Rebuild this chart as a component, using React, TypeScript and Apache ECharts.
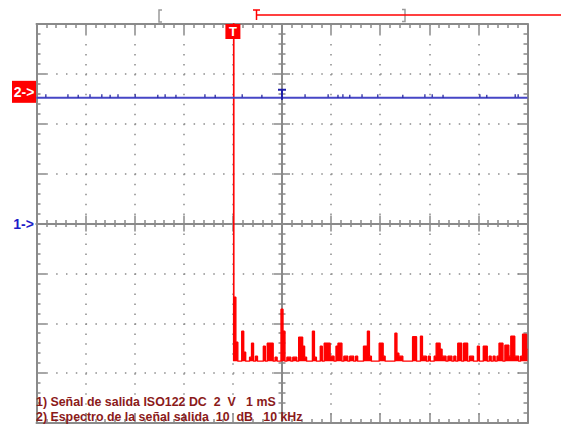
import React, { useEffect, useRef } from 'react';
import * as echarts from 'echarts';

const W = 561;
const H = 426;

// Channel 1 (blue): ISO122 output, DC coupled, 2 V/div, 1 ms/div
const CH1_TIME_MS = [0, 0.5, 1, 1.5, 2, 2.5, 3, 3.5, 4, 4.5, 5, 5.5, 6, 6.5, 7, 7.5, 8, 8.5, 9, 9.5, 10];
const CH1_VOLTS = [5.04, 5.04, 5.04, 5.04, 5.04, 5.04, 5.04, 5.04, 5.04, 5.04, 5.04, 5.04, 5.04, 5.04, 5.04, 5.04, 5.04, 5.04, 5.04, 5.04, 5.04];
const CH1_GLITCH_MS = [0.19, 0.64, 0.85, 1.09, 1.33, 1.5, 1.66, 2.01, 2.47, 2.62, 2.84, 3.43, 3.64, 4.19, 4.59, 5.47, 5.94, 6.14, 6.24, 6.38, 6.63, 6.95, 7.46, 7.91, 8.06, 8.28, 9.03, 9.17, 9.75, 9.81];
const CH1_GLITCH_V = [5.12, 5.12, 5.1, 5.12, 5.12, 5.1, 5.12, 5.12, 5.1, 5.12, 5.1, 5.12, 5.1, 5.12, 5.1, 5.12, 5.12, 5.1, 5.12, 5.1, 5.12, 5.12, 5.1, 5.12, 5.12, 5.1, 5.12, 5.1, 5.12, 5.12];
const CH1_TRIGGER_MS = 4;
const CH1_TRIGGER_LEVEL_V = 5.04;

// Channel 2: spectrum of output signal, 10 dB/div, 10 kHz/div, 0 Hz at the trigger division
const SPECTRUM_STEP_KHZ = 0.4;
const SPECTRUM_DB = [
  40, -41.2, -50.2, -54, -54, -48, -52.2, -54, -54, -53.2,
  -50.4, -54, -53, -54, -54, -54, -51, -54, -50.4, -50.4,
  -50.4, -54, -53.2, -54, -54, -43.6, -48, -54, -53.2, -53.2,
  -54, -53.2, -53.2, -54, -49.2, -49.2, -51, -53.2, -54, -54,
  -54, -48, -53.2, -54, -54, -51, -54, -50.4, -50.4, -50.4,
  -53, -53, -54, -51, -50.4, -50.4, -54, -53, -53, -54,
  -53, -53, -54, -53, -54, -54, -54, -51, -51, -48,
  -53, -54, -54, -54, -54, -50.4, -50.4, -53, -54, -54,
  -54, -54, -54, -48.4, -52.4, -53, -53, -54, -54, -54,
  -54, -54, -49.1, -49.1, -54, -54, -49, -53, -53, -54,
  -53, -54, -54, -53, -50.4, -50.4, -51.6, -53, -53, -54,
  -53, -53, -54, -53, -54, -50.4, -50.4, -54, -50.4, -50.4,
  -54, -53, -53, -54, -54, -51, -54, -54, -51, -51,
  -54, -53, -54, -53, -54, -53, -50.4, -50.4, -54, -50.8,
  -50.8, -53, -49, -49, -53, -53, -54, -53, -48.6, -48.6,
  -51.6,
];
const SPECTRUM_FLOOR_DB = -54;
const SPECTRUM_REF_DB = 0;

const LABEL_1 = '1) Señal de salida ISO122 DC  2  V   1 mS';
const LABEL_2 = '2) Espectro de la señal salida  10  dB   10 kHz';

const FONT = '"Liberation Sans", Arial, sans-serif';
const GRAY = '#8a8a8a';
const GRID = { left: 36.5, top: 24, width: 491, height: 399 };

function buildOption() {
  const frameTick = { show: true, inside: true, length: 10, lineStyle: { color: GRAY, width: 1.5 } };
  const frameMinor = { show: true, splitNumber: 5, length: 4, lineStyle: { color: GRAY, width: 1.5 } };
  const frameLine = { show: true, onZero: false, lineStyle: { color: GRAY, width: 2 } };
  const centerTick = { show: true, inside: false, length: 8, lineStyle: { color: GRAY, width: 1.5 } };
  const centerMinor = { show: true, splitNumber: 5, length: 3.5, lineStyle: { color: GRAY, width: 1.5 } };
  const centerLine = { show: true, onZero: true, lineStyle: { color: GRAY, width: 2 } };
  const noLabel = { show: false };
  const noSplit = { show: false };

  const blueData = CH1_TIME_MS.map((t, i) => [t, CH1_VOLTS[i]]);
  const glitchData = CH1_GLITCH_MS.map((t, i) => [t, CH1_GLITCH_V[i]]);
  const specData = SPECTRUM_DB.map((v, i) => [i * SPECTRUM_STEP_KHZ, v]);

  return {
    animation: false,
    backgroundColor: '#ffffff',
    textStyle: { fontFamily: FONT },
    grid: [
      { ...GRID, outerBoundsMode: 'none' },
      { ...GRID, outerBoundsMode: 'none' },
      { ...GRID, outerBoundsMode: 'none' },
    ],
    xAxis: [
      {
        gridIndex: 0, type: 'value', min: 0, max: 10, interval: 1, position: 'bottom',
        axisLine: frameLine, axisTick: frameTick, minorTick: frameMinor, axisLabel: noLabel,
        splitLine: { show: true, lineStyle: { color: '#8c8c8c', width: 1.5, type: [1.5, 8.48] } },
      },
      {
        gridIndex: 0, type: 'value', min: 0, max: 10, interval: 1, position: 'top',
        axisLine: frameLine, axisTick: frameTick, minorTick: frameMinor, axisLabel: noLabel, splitLine: noSplit,
      },
      { gridIndex: 0, type: 'value', min: -40, max: 60, show: false, axisLine: { onZero: false } },
      {
        gridIndex: 1, type: 'value', min: -5, max: 5, interval: 1, position: 'bottom',
        axisLine: centerLine, axisTick: centerTick, minorTick: centerMinor, axisLabel: noLabel, splitLine: noSplit,
      },
      {
        gridIndex: 2, type: 'value', min: -5, max: 5, interval: 1, position: 'top',
        axisLine: centerLine, axisTick: centerTick, minorTick: centerMinor, axisLabel: noLabel, splitLine: noSplit,
      },
    ],
    yAxis: [
      {
        gridIndex: 0, type: 'value', min: -4, max: 4, interval: 1, position: 'left',
        axisLine: frameLine, axisTick: frameTick, minorTick: frameMinor, axisLabel: noLabel,
        splitLine: { show: true, lineStyle: { color: '#8c8c8c', width: 1.5, type: [1.5, 8.32] } },
      },
      {
        gridIndex: 0, type: 'value', min: -4, max: 4, interval: 1, position: 'right',
        axisLine: frameLine, axisTick: frameTick, minorTick: frameMinor, axisLabel: noLabel, splitLine: noSplit,
      },
      { gridIndex: 0, type: 'value', min: -8, max: 8, show: false, axisLine: { onZero: false } },
      { gridIndex: 0, type: 'value', min: -66.4, max: 13.6, show: false, axisLine: { onZero: false } },
      {
        gridIndex: 1, type: 'value', min: -4, max: 4, interval: 1, position: 'left',
        axisLine: centerLine, axisTick: centerTick, minorTick: centerMinor, axisLabel: noLabel, splitLine: noSplit,
      },
      {
        gridIndex: 2, type: 'value', min: -4, max: 4, interval: 1, position: 'right',
        axisLine: centerLine, axisTick: centerTick, minorTick: centerMinor, axisLabel: noLabel, splitLine: noSplit,
      },
    ],
    series: [
      {
        name: 'spectrum',
        type: 'line',
        xAxisIndex: 2,
        yAxisIndex: 3,
        data: specData,
        step: 'middle',
        symbol: 'none',
        clip: true,
        lineStyle: { color: '#ff0000', width: 1.4 },
        areaStyle: { color: '#ff0000', opacity: 1, origin: SPECTRUM_FLOOR_DB },
        z: 3,
        markPoint: {
          silent: true,
          animation: false,
          data: [
            {
              coord: [-40, SPECTRUM_REF_DB],
              symbol: 'rect', symbolSize: [24, 22], symbolOffset: [-12.5, 0],
              itemStyle: { color: '#ff0000' },
              label: { show: true, position: 'inside', formatter: '2->', color: '#ffffff', fontSize: 14, fontWeight: 'bold', fontFamily: FONT },
            },
          ],
        },
      },
      {
        name: 'ch1',
        type: 'line',
        xAxisIndex: 0,
        yAxisIndex: 2,
        data: blueData,
        symbol: 'none',
        lineStyle: { color: '#4646c6', width: 2 },
        z: 4,
        markPoint: {
          silent: true,
          animation: false,
          data: [
            {
              coord: [CH1_TRIGGER_MS, 8],
              symbol: 'rect', symbolSize: [15, 15], symbolOffset: [0, 7.5],
              itemStyle: { color: '#ff0000' },
              label: { show: true, position: 'inside', formatter: 'T', color: '#ffffff', fontSize: 13, fontWeight: 'bold', fontFamily: FONT },
            },
            {
              coord: [5, CH1_TRIGGER_LEVEL_V],
              symbol: 'path://M0,0 L8,0 L8,2 L5,2 L5,11 L3,11 L3,2 L0,2 Z',
              symbolSize: [8, 11], symbolOffset: [0, -3.5], symbolKeepAspect: false,
              itemStyle: { color: '#1e1ea8' },
              label: { show: false },
            },
            {
              coord: [0, 0],
              symbol: 'rect', symbolSize: [24, 16], symbolOffset: [-13, 0],
              itemStyle: { color: 'rgba(0,0,0,0)' },
              label: { show: true, position: 'inside', formatter: '1->', color: '#1c1cc8', fontSize: 14, fontWeight: 'bold', fontFamily: FONT },
            },
          ],
        },
      },
      {
        name: 'ch1 glitches',
        type: 'scatter',
        xAxisIndex: 0,
        yAxisIndex: 2,
        data: glitchData,
        symbol: 'rect',
        symbolSize: [1.5, 3],
        itemStyle: { color: '#1a1a9a' },
        silent: true,
        z: 5,
      },
    ],
    graphic: [
      {
        type: 'polyline', silent: true,
        shape: { points: [[162, 10], [159, 10], [159, 22], [162, 22]] },
        style: { stroke: '#9a9a9a', lineWidth: 1.5, fill: 'none' },
      },
      {
        type: 'polyline', silent: true,
        shape: { points: [[402, 9.5], [405, 9.5], [405, 21.5], [402, 21.5]] },
        style: { stroke: '#9a9a9a', lineWidth: 1.5, fill: 'none' },
      },
      { type: 'line', silent: true, shape: { x1: 253, y1: 10, x2: 260, y2: 10 }, style: { stroke: '#ff0000', lineWidth: 1.5 } },
      { type: 'line', silent: true, shape: { x1: 256.5, y1: 10, x2: 256.5, y2: 20 }, style: { stroke: '#ff0000', lineWidth: 1.5 } },
      { type: 'line', silent: true, shape: { x1: 256.5, y1: 15, x2: 561, y2: 15 }, style: { stroke: '#ff0000', lineWidth: 1.5 } },
      {
        type: 'text', silent: true, x: 36, y: 402, z: 100,
        style: { text: LABEL_1, fill: '#8b1a1a', font: `bold 12.4px ${FONT}`, align: 'left', verticalAlign: 'middle' },
      },
      {
        type: 'text', silent: true, x: 36, y: 416.5, z: 100,
        style: { text: LABEL_2, fill: '#8b1a1a', font: `bold 12.4px ${FONT}`, align: 'left', verticalAlign: 'middle' },
      },
    ],
  };
}

export default function App() {
  const ref = useRef<HTMLDivElement>(null);
  useEffect(() => {
    if (!ref.current) return;
    const chart = echarts.init(ref.current, undefined, { renderer: 'svg', width: W, height: H });
    chart.setOption(buildOption() as any);
    return () => chart.dispose();
  }, []);
  return (
    <div
      ref={ref}
      style={{ position: 'fixed', left: 0, top: 0, width: W, height: H, background: '#ffffff' }}
    />
  );
}
